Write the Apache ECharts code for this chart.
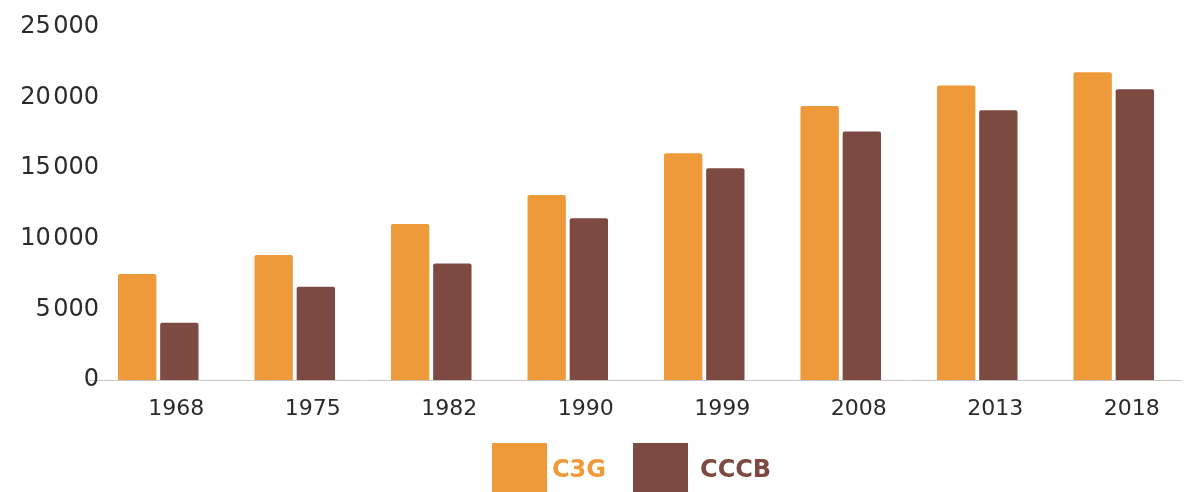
<!DOCTYPE html>
<html lang="fr">
<head>
    <meta charset="UTF-8">
    <title>C3G / CCCB</title>
    <script src="https://cdn.jsdelivr.net/npm/echarts@6/dist/echarts.min.js"></script>
    <style>
        html, body { margin: 0; padding: 0; background: #fff; }
    </style>
</head>
<body>
<div id="main" style="width: 1184px;height:492px;"></div>
<script>
    // années et valeurs
    var years = ['1968', '1975', '1982', '1990', '1999', '2008', '2013', '2018'];
    var c3g = [7500, 8850, 11050, 13100, 16050, 19400, 20850, 21800];
    var cccb = [4050, 6600, 8250, 11450, 15000, 17600, 19100, 20600];
    var yTicks = [0, 5000, 10000, 15000, 20000, 25000];

    var orange = '#ef9a3a';
    var brown = '#7d4a42';

    function fmt(v) {
        // séparateur de milliers : espace très fine
        return String(v).replace(/\B(?=(\d{3})+$)/g, '\u200a');
    }

    var myChart = echarts.init(document.getElementById('main'));

    var option = {
        animation: false,
        textStyle: { fontFamily: 'DejaVu Sans' },
        grid: {
            left: 90,
            width: 1092,
            top: 27,
            bottom: 112
        },
        legend: {
            top: 443,
            left: 492,
            padding: 0,
            itemWidth: 55,
            itemHeight: 55,
            itemGap: 27,
            icon: 'rect',
            textStyle: { fontSize: 24, fontWeight: 'bold' },
            data: [
                { name: 'C3G', textStyle: { color: orange, padding: [6, 0, 0, 0] } },
                { name: 'CCCB', textStyle: { color: brown, padding: [6, 0, 0, 7] } }
            ]
        },
        xAxis: {
            type: 'category',
            data: years,
            axisLine: { lineStyle: { color: '#c8c8c8', width: 1 } },
            axisTick: { show: false },
            axisLabel: {
                color: '#2b2b2b',
                fontSize: 22,
                margin: 18,
                padding: [0, 0, 0, 36]
            }
        },
        yAxis: {
            type: 'value',
            min: yTicks[0],
            max: yTicks[yTicks.length - 1],
            interval: 5000,
            splitLine: { show: false },
            axisLine: { show: false },
            axisTick: { show: false },
            axisLabel: {
                color: '#2b2b2b',
                fontSize: 24,
                margin: -9,
                formatter: fmt
            }
        },
        series: [
            {
                name: 'C3G',
                type: 'bar',
                data: c3g,
                barGap: '10%',
                barCategoryGap: '41%',
                itemStyle: { color: orange, borderRadius: [2, 2, 0, 0] }
            },
            {
                name: 'CCCB',
                type: 'bar',
                data: cccb,
                itemStyle: { color: brown, borderRadius: [2, 2, 0, 0] }
            }
        ]
    };

    myChart.setOption(option);
</script>
</body>
</html>
